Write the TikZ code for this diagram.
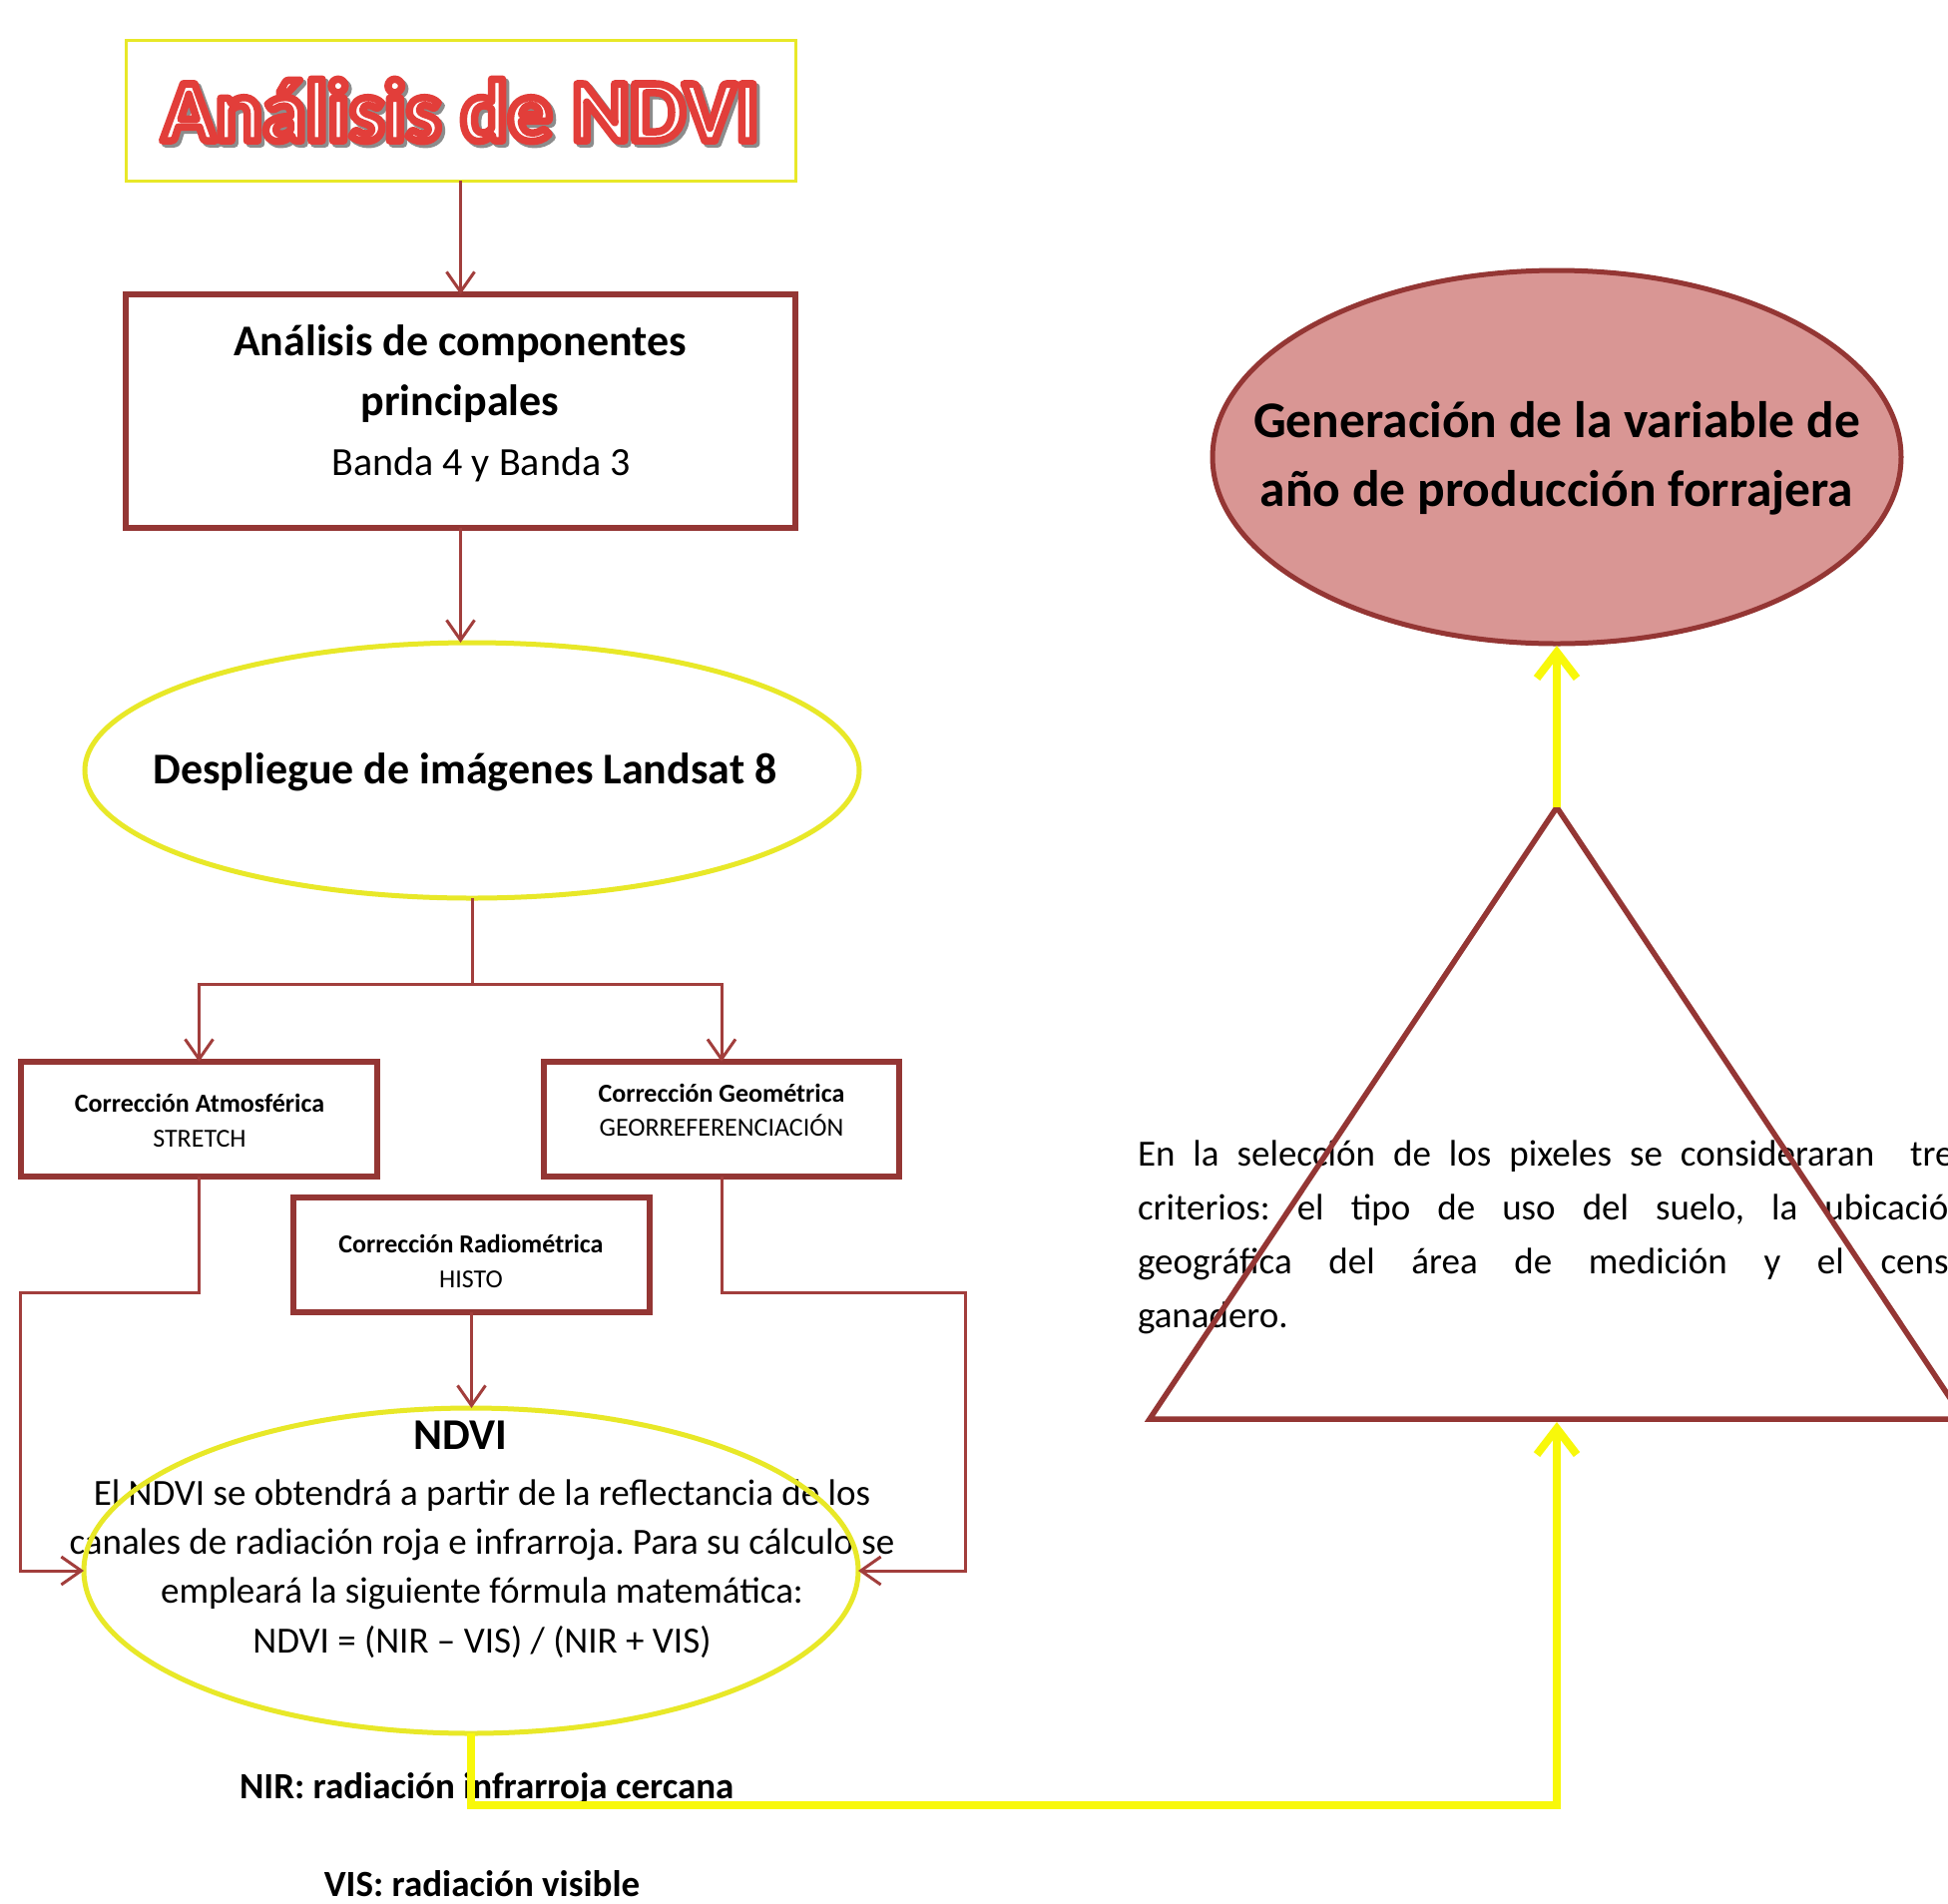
\documentclass[tikz,border=0pt]{standalone}
\usepackage{fontspec}
\setmainfont{Carlito}
\frenchspacing
\usetikzlibrary{shapes.geometric,arrows.meta}
\definecolor{dred}{RGB}{148,54,52}
\definecolor{cred}{RGB}{162,62,60}
\definecolor{ylw}{RGB}{232,232,40}
\definecolor{ylwl}{RGB}{248,248,10}
\definecolor{pinkfill}{RGB}{217,150,148}
\definecolor{tred}{RGB}{226,62,58}
\begin{document}
\begin{tikzpicture}[x=1pt,y=-1pt,
  every node/.style={inner sep=0pt,outer sep=0pt},
  rbox/.style={draw=dred,line width=6pt,rectangle},
  yell/.style={ellipse,draw=ylw,line width=5pt},
  rc/.style={draw=cred,line width=3pt,-{Straight Barb[length=20pt,width=28pt]}},
  yc/.style={draw=ylwl,line width=8pt,-{Straight Barb[length=26pt,width=40pt]}},
  titletxt/.style={font=\bfseries\fontsize{88}{100}\selectfont},
  bigb/.style={font=\bfseries\fontsize{44}{60}\selectfont},
  smallb/.style={font=\bfseries\fontsize{26}{30}\selectfont,anchor=mid},
  smallr/.style={font=\fontsize{26}{28}\selectfont,anchor=mid}]
\useasboundingbox (0,0) rectangle (1952,1907);
\clip (0,0) rectangle (1952,1907);
\fill[white] (0,0) rectangle (1952,1907);

% ---- text placed under shapes ----
\node[bigb,align=center] (pcat) at (461,375) {Análisis de componentes\\principales};
\node[font=\fontsize{40}{48}\selectfont,anchor=mid] (band) at (482,474) {Banda 4 y Banda 3};
\node[font=\bfseries\fontsize{44}{52}\selectfont,anchor=mid] (despt) at (466,783) {Despliegue de imágenes Landsat 8};
\node[smallb] (atmt1) at (200,1112) {Corrección Atmosférica};
\node[smallr] (atmt2) at (200,1147) {STRETCH};
\node[smallb] (geot1) at (723,1102) {Corrección Geométrica};
\node[smallr] (geot2) at (723,1136) {GEORREFERENCIACIÓN};
\node[smallb] (radt1) at (472,1253) {Corrección Radiométrica};
\node[smallr] (radt2) at (472,1288) {HISTO};
\node[font=\bfseries\fontsize{44}{50}\selectfont,anchor=mid] (ndvit) at (461,1450) {NDVI};
\node[font=\fontsize{37}{49.3}\selectfont,align=center] (ndvib) at (483,1572)
  {El NDVI se obtendrá a partir de la reflectancia de los\\canales de radiación roja e infrarroja. Para su cálculo se\\empleará la siguiente fórmula matemática:\\NDVI = (NIR – VIS) / (NIR + VIS)};
\node[font=\bfseries\fontsize{37}{44}\selectfont,anchor=mid west] (nir) at (240,1800) {NIR: radiación infrarroja cercana};
\node[font=\bfseries\fontsize{37}{44}\selectfont,anchor=mid] (vis) at (483,1898) {VIS: radiación visible};
\node[font=\fontsize{37}{54}\selectfont,text width=832pt,align=justify,anchor=north west] (para) at (1140,1143)
  {En la selección de los pixeles se consideraran\ \ tres\linebreak criterios: el tipo de uso del suelo, la ubicación\linebreak geográfica del área de medición y el censo\linebreak ganadero.};

% ---- shapes ----
\node[draw=ylw,line width=3pt,minimum width=671pt,minimum height=141pt] (tb) at (461.5,110.5) {};
\node[titletxt,text=black!45] (tsh) at ([xshift=3pt,yshift=-3pt]tb.center) {\special{pdf:literal direct 2 Tr 7.5 w 1 j}Análisis de NDVI\special{pdf:literal direct 0 Tr}};
\node[titletxt,text=white] (twh) at (tb.center) {Análisis de NDVI};
\node[titletxt,text=tred] (ttl) at (tb.center) {\special{pdf:literal direct 1 Tr 7.5 w 1 j}Análisis de NDVI\special{pdf:literal direct 0 Tr}};

\node[rbox,minimum width=671pt,minimum height=234pt] (pca) at (461.5,412) {};
\node[yell,minimum width=776pt,minimum height=256pt] (desp) at (473,772) {};
\node[rbox,minimum width=357pt,minimum height=115pt] (atm) at (199.5,1121.5) {};
\node[rbox,minimum width=356pt,minimum height=115pt] (geo) at (723,1121.5) {};
\node[rbox,minimum width=357pt,minimum height=115pt] (rad) at (472.5,1257.5) {};
\node[yell,minimum width=776pt,minimum height=326pt] (ndvi) at (472,1574) {};
\node[ellipse,draw=dred,line width=5pt,fill=pinkfill,minimum width=690pt,minimum height=374pt] (gen) at (1560,458) {};
\node[font=\bfseries\fontsize{51.5}{69}\selectfont,align=center] (gent) at (1560,459)
  {Generación de la variable de\\año de producción forrajera};

\coordinate (apex) at (1560,809);
\coordinate (bl) at (1152,1422);
\coordinate (br) at (1968,1422);
\coordinate (tbase) at (1560,1422);
\draw[draw=dred,line width=5.5pt] (apex) -- (bl) -- (br) -- cycle;

% ---- connectors ----
\draw[rc] (tb.south) -- (pca.north);
\draw[rc] (pca.south) -- (pca.south |- desp.north);
\draw[draw=cred,line width=3pt] (desp.south) -- ++(0,86) coordinate (split);
\draw[rc] (split) -| (atm.north);
\draw[rc] (split) -| (geo.north);
\draw[rc] (rad.south) -- (rad.south |- ndvi.north);
\draw[rc] (atm.south) -- ++(0,116) -| ([xshift=-64pt]ndvi.west) -- (ndvi.west);
\draw[rc] (geo.south) -- ++(0,116) -| ([xshift=107pt]ndvi.east) -- (ndvi.east);
\draw[yc,shorten >=3pt] (ndvi.south) -- ++(0,72) -| (tbase);
\draw[yc,shorten >=2pt] (apex) -- (gen.south);
\end{tikzpicture}
\end{document}
